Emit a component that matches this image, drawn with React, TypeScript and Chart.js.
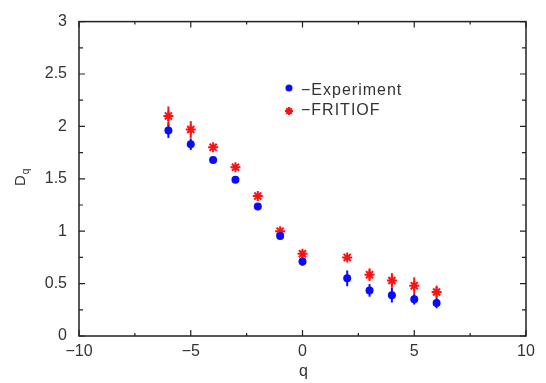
import React, { useEffect, useRef } from 'react';
import { Chart, registerables } from 'chart.js';

Chart.register(...registerables);

// ---- Data ----
const qValues = [-6, -5, -4, -3, -2, -1, 0, 2, 3, 4, 5, 6];
const experiment = [1.96, 1.83, 1.68, 1.49, 1.235, 0.955, 0.71, 0.55, 0.435, 0.39, 0.35, 0.315];
const experimentErr = [0.07, 0.055, 0.02, 0.02, 0.02, 0.02, 0.04, 0.075, 0.06, 0.07, 0.05, 0.05];
const fritiof = [2.1, 1.97, 1.8, 1.61, 1.335, 1.0, 0.785, 0.75, 0.585, 0.53, 0.48, 0.42];
const fritiofErr = [0.09, 0.08, 0.02, 0.02, 0.02, 0.02, 0.03, 0.02, 0.06, 0.07, 0.08, 0.06];

const seriesNames = ['\u2212Experiment', '\u2212FRITIOF'];
const xTickLabels: Record<string, string> = { '-10': '\u221210', '-5': '\u22125', '0': '0', '5': '5', '10': '10' };
const yTickLabels: Record<string, string> = { '0': '0', '0.5': '0.5', '1': '1', '1.5': '1.5', '2': '2', '2.5': '2.5', '3': '3' };
const xTitle = 'q';
const yTitleMain = 'D';
const yTitleSub = 'q';

const FONT = "'Liberation Sans', Arial, Helvetica, sans-serif";
const BLUE = '#0a0aff';
const RED = '#ff1010';
const AXIS = '#222222';
const TEXT = '#333333';

const keyOf = (v: number) => String(Math.round(v * 100) / 100);

export default function App() {
  const ref = useRef<HTMLCanvasElement | null>(null);

  useEffect(() => {
    document.body.style.margin = '0';
    const canvas = ref.current;
    if (!canvas) return;

    const errs = [experimentErr, fritiofErr];

    const errorBars = {
      id: 'errorBars',
      beforeDatasetsDraw(chart: any) {
        const ctx = chart.ctx;
        const ys = chart.scales.y;
        ctx.save();
        chart.data.datasets.forEach((ds: any, i: number) => {
          const meta = chart.getDatasetMeta(i);
          ctx.strokeStyle = ds.borderColor;
          ctx.lineWidth = 2;
          meta.data.forEach((pt: any, j: number) => {
            const v = (ds.data[j] as any).y;
            const e = errs[i][j];
            ctx.beginPath();
            ctx.moveTo(pt.x, ys.getPixelForValue(v - e));
            ctx.lineTo(pt.x, ys.getPixelForValue(v + e));
            ctx.stroke();
          });
        });
        ctx.restore();
      },
    };

    const frame = {
      id: 'frame',
      afterDraw(chart: any) {
        const ctx = chart.ctx;
        const { left, right, top, bottom } = chart.chartArea;
        const xs = chart.scales.x;
        const ys = chart.scales.y;
        ctx.save();
        ctx.strokeStyle = AXIS;
        ctx.lineWidth = 1.5;
        ctx.strokeRect(left, top, right - left, bottom - top);
        ctx.lineWidth = 1.2;
        xs.ticks.forEach((t: any) => {
          const px = xs.getPixelForValue(t.value);
          const len = xTickLabels[keyOf(t.value)] !== undefined ? 6 : 3;
          ctx.beginPath();
          ctx.moveTo(px, bottom);
          ctx.lineTo(px, bottom - len);
          ctx.moveTo(px, top);
          ctx.lineTo(px, top + len);
          ctx.stroke();
        });
        ys.ticks.forEach((t: any) => {
          const py = ys.getPixelForValue(t.value);
          const len = yTickLabels[keyOf(t.value)] !== undefined ? 6 : 4;
          ctx.beginPath();
          ctx.moveTo(left, py);
          ctx.lineTo(left + len, py);
          ctx.moveTo(right, py);
          ctx.lineTo(right - len, py);
          ctx.stroke();
        });

        // Axis titles
        ctx.fillStyle = TEXT;
        ctx.font = `16px ${FONT}`;
        ctx.textAlign = 'center';
        ctx.textBaseline = 'middle';
        ctx.fillText(xTitle, (left + right) / 2 + 1, 372);

        ctx.save();
        ctx.translate(25, 186);
        ctx.rotate(-Math.PI / 2);
        ctx.textAlign = 'left';
        ctx.textBaseline = 'alphabetic';
        ctx.font = `15px ${FONT}`;
        ctx.fillText(yTitleMain, 0, 0);
        const w = ctx.measureText(yTitleMain).width;
        ctx.font = `10px ${FONT}`;
        ctx.fillText(yTitleSub, w + 1, 4);
        ctx.restore();

        // Legend
        const lx = 289;
        const rows = [88, 111];
        // blue marker
        ctx.fillStyle = BLUE;
        ctx.beginPath();
        ctx.arc(lx, rows[0], 3.5, 0, Math.PI * 2);
        ctx.fill();
        // red asterisk
        ctx.strokeStyle = RED;
        ctx.lineWidth = 2;
        const r = 4;
        ctx.beginPath();
        for (let k = 0; k < 4; k++) {
          const a = (k * Math.PI) / 4;
          ctx.moveTo(lx - r * Math.cos(a), rows[1] - r * Math.sin(a));
          ctx.lineTo(lx + r * Math.cos(a), rows[1] + r * Math.sin(a));
        }
        ctx.stroke();

        ctx.fillStyle = TEXT;
        ctx.font = `16px ${FONT}`;
        ctx.textAlign = 'left';
        ctx.textBaseline = 'middle';
        try { (ctx as any).letterSpacing = '1px'; } catch (e) { /* ignore */ }
        ctx.fillText(seriesNames[0], 301, rows[0] + 3);
        ctx.fillText(seriesNames[1], 301, rows[1]);
        ctx.restore();
      },
    };

    const chart = new Chart(canvas, {
      type: 'scatter',
      data: {
        datasets: [
          {
            label: seriesNames[0],
            data: qValues.map((q, i) => ({ x: q, y: experiment[i] })),
            backgroundColor: BLUE,
            borderColor: BLUE,
            pointStyle: 'circle',
            pointRadius: 4,
            borderWidth: 0,
          },
          {
            label: seriesNames[1],
            data: qValues.map((q, i) => ({ x: q, y: fritiof[i] })),
            backgroundColor: RED,
            borderColor: RED,
            pointStyle: 'star',
            pointRadius: 5,
            borderWidth: 2,
          },
        ],
      },
      options: {
        animation: false,
        responsive: true,
        maintainAspectRatio: false,
        layout: { padding: { top: 15, right: 20, left: 0, bottom: 0 } },
        plugins: {
          legend: { display: false },
          tooltip: { enabled: false },
          title: { display: false },
        },
        scales: {
          x: {
            type: 'linear',
            min: -10,
            max: 10,
            grid: { display: false, drawTicks: false },
            border: { display: false },
            ticks: {
              stepSize: 2.5,
              autoSkip: false,
              maxRotation: 0,
              padding: 6,
              color: TEXT,
              font: { family: FONT, size: 16 },
              callback: (v: any) => xTickLabels[keyOf(Number(v))] ?? '',
            },
            afterFit: (s: any) => { s.height = 47; },
          },
          y: {
            type: 'linear',
            min: 0,
            max: 3,
            grid: { display: false, drawTicks: false },
            border: { display: false },
            ticks: {
              stepSize: 0.25,
              autoSkip: false,
              padding: 12,
              color: TEXT,
              font: { family: FONT, size: 16 },
              callback: (v: any) => yTickLabels[keyOf(Number(v))] ?? '',
            },
            afterFit: (s: any) => { s.width = 79; },
          },
        },
      } as any,
      plugins: [errorBars, frame],
    });

    return () => chart.destroy();
  }, []);

  return (
    <div style={{ position: 'relative', width: 546, height: 383 }}>
      <canvas ref={ref} />
    </div>
  );
}
